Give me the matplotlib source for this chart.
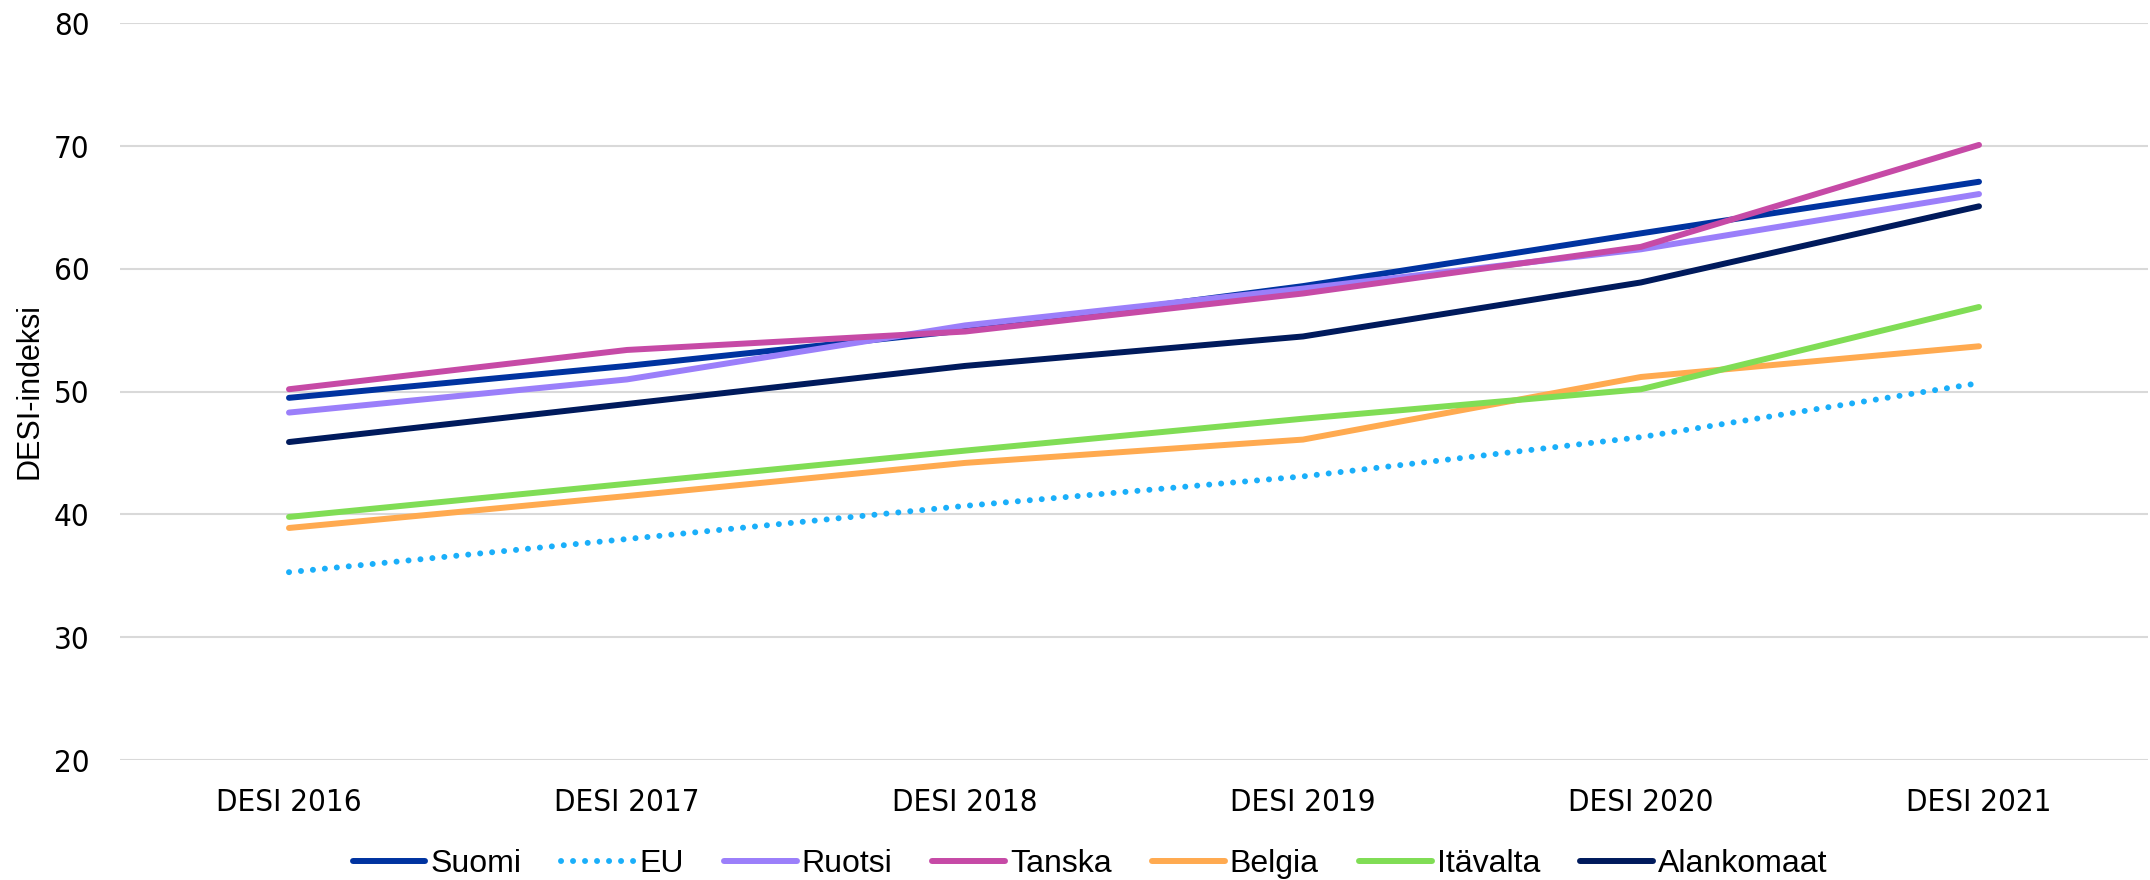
import matplotlib
matplotlib.use("Agg")
import matplotlib.pyplot as plt
from matplotlib import font_manager

# DESI-indeksi by year
years = ["DESI 2016", "DESI 2017", "DESI 2018", "DESI 2019", "DESI 2020", "DESI 2021"]
suomi = [49.5, 52.1, 55.0, 58.6, 62.9, 67.1]
eu = [35.3, 38.0, 40.7, 43.1, 46.3, 50.7]
ruotsi = [48.3, 51.0, 55.4, 58.4, 61.6, 66.1]
tanska = [50.2, 53.4, 54.9, 58.0, 61.8, 70.1]
belgia = [38.9, 41.5, 44.2, 46.1, 51.2, 53.7]
itavalta = [39.8, 42.5, 45.2, 47.8, 50.2, 56.9]
alankomaat = [45.9, 49.0, 52.1, 54.5, 58.9, 65.1]

series = [
    ("Suomi", suomi, "#0033A0"),
    ("EU", eu, "#1AAFFA"),
    ("Ruotsi", ruotsi, "#9B7FFA"),
    ("Tanska", tanska, "#C64AA6"),
    ("Belgia", belgia, "#FFAA50"),
    ("Itävalta", itavalta, "#80DD55"),
    ("Alankomaat", alankomaat, "#001A5C"),
]

# condensed DejaVu if it is there, plain DejaVu otherwise
names = {f.name for f in font_manager.fontManager.ttflist}
if "DejaVu Sans Condensed" in names or any(
        f.name == "DejaVu Sans" and f.stretch == "condensed"
        for f in font_manager.fontManager.ttflist):
    tick_font = dict(family="DejaVu Sans", stretch="condensed", size=22.4)
else:
    tick_font = dict(family="DejaVu Sans", size=21)

fig = plt.figure(figsize=(21.5, 8.8), dpi=100)
ax = fig.add_axes([120 / 2150, 1 - 760 / 880, 2028 / 2150, (760 - 23.4) / 880])

x = range(len(years))
for name, vals, color in series:
    if name == "EU":
        ax.plot(x, vals, color=color, lw=4.3, linestyle=(0, (0.01, 2.0)),
                dash_capstyle="round", label=name)
    else:
        ax.plot(x, vals, color=color, lw=4.3, solid_capstyle="round", label=name)

ax.set_xlim(-0.5, 5.5)
ax.set_ylim(20, 80)
ax.set_yticks(range(20, 81, 10))
ax.set_xticks(list(x))
ax.set_xticklabels(years)
ax.grid(axis="y", color="#D9D9D9", lw=1.5)
ax.set_axisbelow(True)
for s in ax.spines.values():
    s.set_visible(False)
ax.tick_params(axis="both", length=0, labelcolor="black")
ax.tick_params(axis="y", pad=22)
ax.tick_params(axis="x", pad=20)
for lab in ax.get_xticklabels() + ax.get_yticklabels():
    lab.set_fontproperties(font_manager.FontProperties(**tick_font))

fig.text(30 / 2150, 1 - 391 / 880, "DESI-indeksi", rotation=90, ha="center",
         va="center", fontsize=22, family=["Liberation Sans", "DejaVu Sans"])

fig.legend(loc="center", bbox_to_anchor=(1090 / 2150, 16 / 880), ncol=7,
           frameon=False, prop={"family": ["Liberation Sans", "DejaVu Sans"], "size": 23},
           handlelength=2.28, handletextpad=0.16, columnspacing=1.25)

fig.savefig("out.png", dpi=100)
